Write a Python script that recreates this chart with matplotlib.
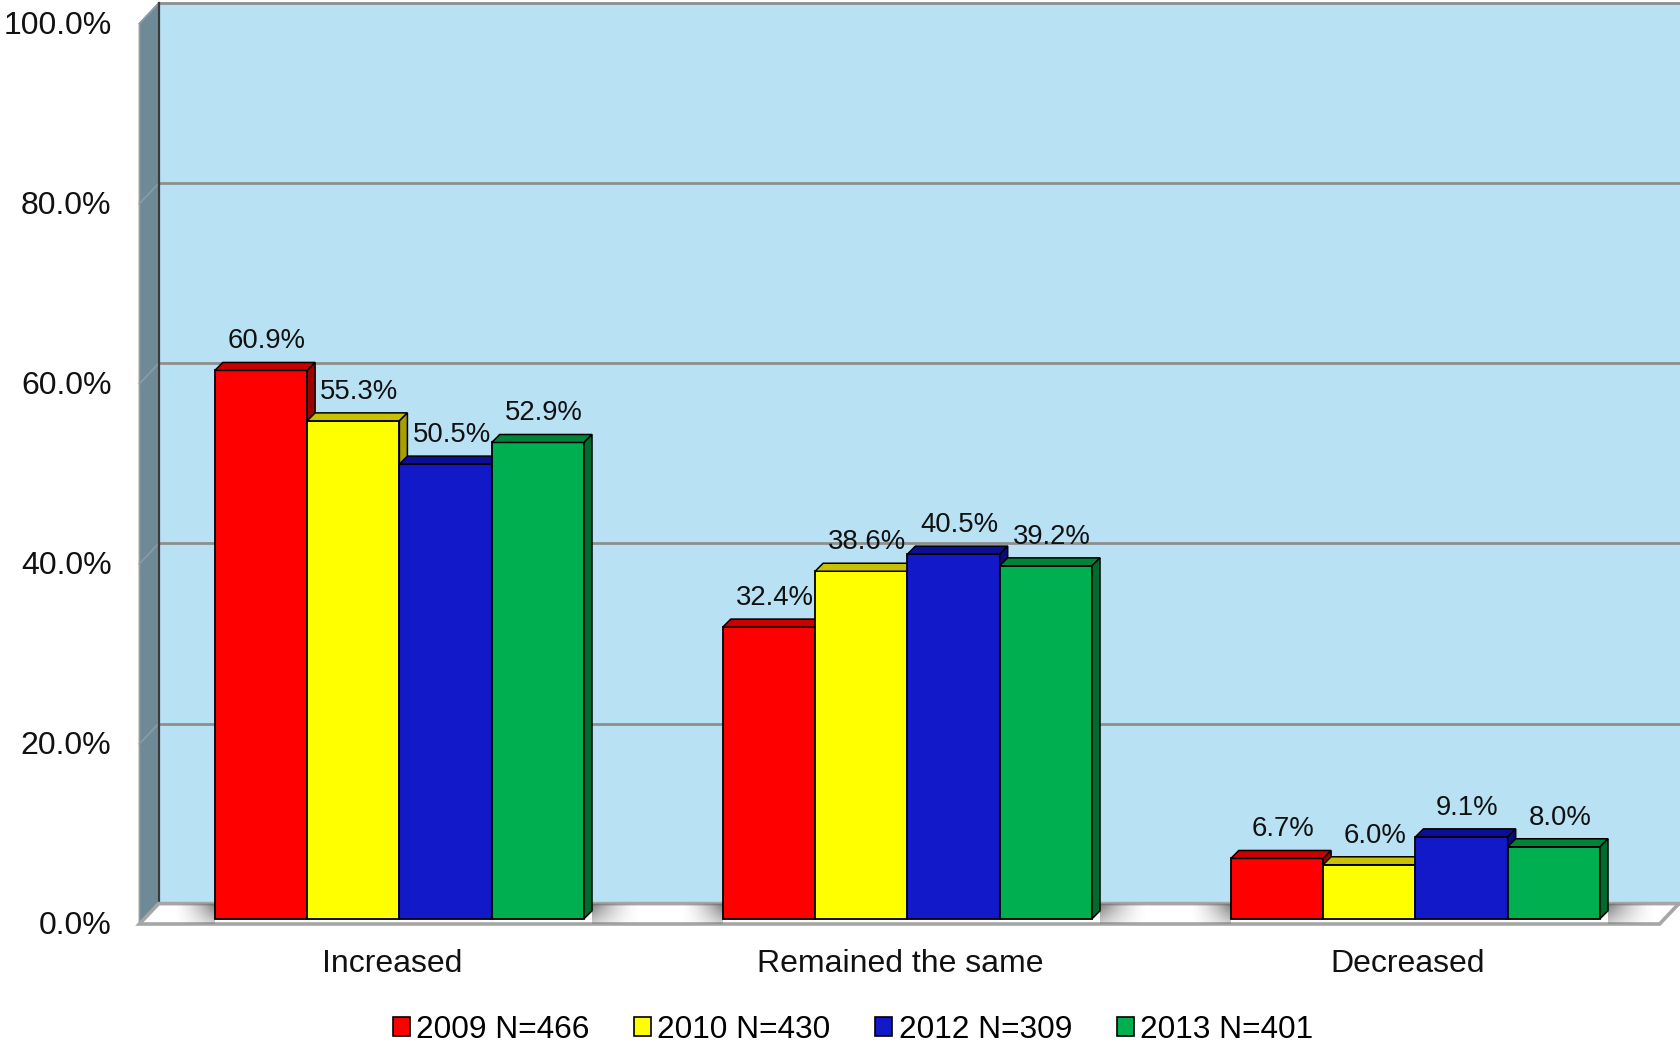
import matplotlib
matplotlib.use('Agg')
import matplotlib.pyplot as plt
import numpy as np
from matplotlib.patches import Polygon, Rectangle

plt.rcParams['font.family'] = ['Liberation Sans', 'DejaVu Sans']

# ---------------- data ----------------
categories = ['Increased', 'Remained the same', 'Decreased']
series_names = ['2009 N=466', '2010 N=430', '2012 N=309', '2013 N=401']
v2009 = [60.9, 32.4, 6.7]
v2010 = [55.3, 38.6, 6.0]
v2012 = [50.5, 40.5, 9.1]
v2013 = [52.9, 39.2, 8.0]
yticks = [0, 20, 40, 60, 80, 100]
ytick_labels = ['0.0%', '20.0%', '40.0%', '60.0%', '80.0%', '100.0%']

series_values = [v2009, v2010, v2012, v2013]
front_colors = ['#FF0000', '#FFFF00', '#1219C8', '#00B050']
top_colors = ['#C80000', '#C8C000', '#0A0F96', '#00843A']
side_colors = ['#A00000', '#A8A000', '#080C78', '#006B2E']

# ---------------- figure / projection ----------------
W, H = 1681, 1044
fig = plt.figure(figsize=(W / 100, H / 100), dpi=100)
ax = fig.add_axes([0, 0, 1, 1])
PX = 1 / 508.0      # data-x per pixel (one category = 508 px)
PY = 1 / 9.004      # data-y per pixel
x0px, y0px = 399.4, 120.0
xmin, xmax = -x0px * PX, (W - x0px) * PX
ymin, ymax = -y0px * PY, (H - y0px) * PY

BX, BY = 19.3 * PX, 20.4 * PY          # wall depth offset
LX = (139.4 - x0px) * PX               # front-left x of walls/floor
RX = (1659.6 - x0px) * PX              # front-right x of floor
w = 92.3 * PX                          # bar width
DX, DY = 8 * PX, 8 * PY                # bar depth
b0 = 5.2 * PY                          # bar base (slightly behind front plane)
xc = np.arange(len(categories))

grid_c = '#8E8E8E'

# back wall
ax.add_patch(Polygon([(LX + BX, BY), (xmax + 0.1, BY), (xmax + 0.1, 100 + BY),
                      (LX + BX, 100 + BY)], closed=True, fc='#B8E1F4',
                     ec='none', zorder=1))
# side wall
ax.add_patch(Polygon([(LX, 0), (LX, 100), (LX + BX, 100 + BY), (LX + BX, BY)],
                     closed=True, fc='#6F8A97', ec='#9A9A9A', lw=1.2, zorder=2))
for t in yticks:
    ax.plot([LX + BX, xmax + 0.1], [t + BY, t + BY], color=grid_c, lw=2.0,
            zorder=1.5, solid_capstyle='butt')
    ax.plot([LX, LX + BX], [t, t + BY], color='#8A9BA5', lw=1.2, zorder=2.5)
# dark inner edges of the back wall
ax.plot([LX + BX, LX + BX, xmax + 0.1], [100 + BY, BY, BY], color='#3A3A3A',
        lw=1.6, zorder=2.6)

# floor
floor = Polygon([(LX, 0), (RX, 0), (RX + BX, BY), (LX + BX, BY)], closed=True,
                fc='white', ec='#A6A6A6', lw=2.6, zorder=3)
ax.add_patch(floor)

# floor shadows next to each bar group
gx = np.linspace(0, 1, 128)
gy = np.linspace(0, 1, 32)[:, None]
for c in xc:
    gl = c - 2 * w
    gr = c + 2 * w + DX
    for (xa, xb, rev) in [(gl - 42 * PX, gl, False), (gr, gr + 48 * PX, True)]:
        fx = gx[::-1] if rev else gx
        img = np.zeros((32, 128, 4))
        img[..., 0:3] = 0.42
        img[..., 3] = (fx[None, :] ** 1.6) * (0.35 + 0.65 * gy) * 0.9
        im = ax.imshow(img, extent=(xa, xb, 0, BY), aspect='auto',
                       origin='lower', interpolation='bilinear', zorder=3.5)
        im.set_clip_path(floor)

# bars with 3-D faces
for i, vals in enumerate(series_values):
    lefts = xc + (i - 2) * w
    z = 10 + 3 * i
    ax.bar(lefts, vals, width=w, bottom=b0, align='edge', color=front_colors[i],
           edgecolor='black', linewidth=1.3, zorder=z)
    for l, v in zip(lefts, vals):
        top = [(l, b0 + v), (l + w, b0 + v), (l + w + DX, b0 + v + DY),
               (l + DX, b0 + v + DY)]
        side = [(l + w, b0), (l + w, b0 + v), (l + w + DX, b0 + v + DY),
                (l + w + DX, b0 + DY)]
        ax.add_patch(Polygon(top, closed=True, fc=top_colors[i], ec='black',
                             lw=1.1, zorder=z + 1))
        ax.add_patch(Polygon(side, closed=True, fc=side_colors[i], ec='black',
                             lw=1.1, zorder=z + 1))
        ax.text(l + w / 2 + 6 * PX, b0 + v + 29 * PY, f'{v:.1f}%', ha='center',
                va='center', fontsize=19.8, color='#111111', zorder=40)

# y tick labels (front plane)
for t, lab in zip(yticks, ytick_labels):
    ax.text(LX - 28 * PX, t - 2.5 * PY, lab, ha='right', va='center',
            fontsize=23, color='#111111')

# category labels
for c, cat in zip(xc, categories):
    ax.text(c - 7.5 * PX, -40 * PY, cat, ha='center', va='center',
            fontsize=23, color='#111111')

# legend
handles = [Rectangle((0, 0), 1, 1, fc=fc, ec='black', lw=1.2)
           for fc in front_colors]
fig.legend(handles, series_names, loc='center',
           bbox_to_anchor=(853 / W, (H - 1030) / H), ncol=4, frameon=False,
           prop={'family': 'Liberation Sans', 'size': 22.8},
           handlelength=0.54, handleheight=0.54, handletextpad=0.2,
           columnspacing=1.41, borderpad=0, borderaxespad=0)

ax.set_xlim(xmin, xmax)
ax.set_ylim(ymin, ymax)
ax.axis('off')
fig.savefig('out.png', dpi=100, facecolor='white')
